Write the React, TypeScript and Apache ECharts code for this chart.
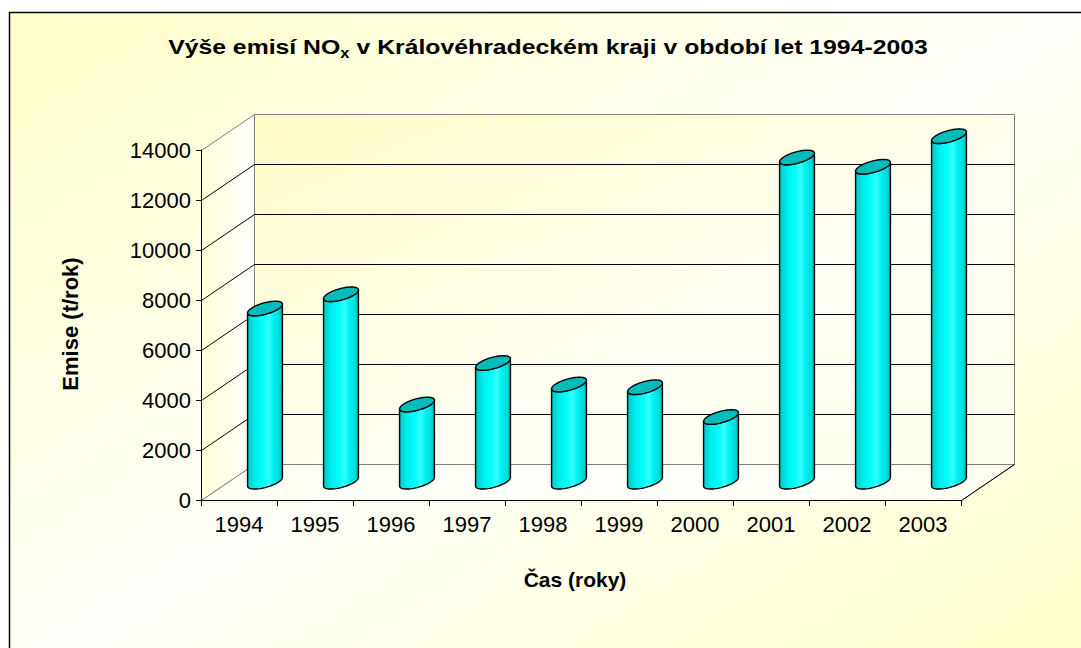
import React, { useEffect, useRef } from 'react';
import * as echarts from 'echarts';

// ---- data ----
const years = ['1994', '1995', '1996', '1997', '1998', '1999', '2000', '2001', '2002', '2003'];
const emissions = [6930, 7500, 3090, 4750, 3890, 3780, 2590, 12970, 12600, 13820];
const yTicks = [0, 2000, 4000, 6000, 8000, 10000, 12000, 14000];
const yMax = 14000;

const titleMain = 'Výše emisí NO';
const titleSub = 'x';
const titleRest = ' v Královéhradeckém kraji v období let 1994-2003';
const yTitle = 'Emise (t/rok)';
const xTitle = 'Čas (roky)';

// ---- projection style ----
const DEPTH: [number, number] = [52, -36.5];
const CYL_A = 14;
const CYL_F = 0.2;
const FONT = '"Liberation Sans", Arial, sans-serif';

const lin = (x1: number, y1: number, x2: number, y2: number, color: string, w = 1) => ({
  type: 'line',
  shape: { x1, y1, x2, y2 },
  style: { stroke: color, lineWidth: w },
  silent: true,
});

function renderWalls(params: any, api: any) {
  const cs = params.coordSys;
  const x0 = Math.round(cs.x) + 0.5;
  const x1 = Math.round(cs.x + cs.width) + 0.5;
  const [dx, dy] = DEPTH;
  const yB = Math.round(api.coord([0, 0])[1]) + 0.5;
  const yT = Math.round(api.coord([0, yMax])[1]) + 0.5;
  const bdy = (y: number) => Math.round(y + dy) + 0.5;
  const bx0 = Math.round(x0 + dx) + 0.5;
  const bx1 = Math.round(x1 + dx) + 0.5;
  const children: any[] = [];
  children.push({
    type: 'polygon',
    shape: { points: [[x0, yB], [x0, yT], [bx0, bdy(yT)], [bx0, bdy(yB)]] },
    style: {
      fill: new echarts.graphic.LinearGradient(0, 0, 1, 0, [
        { offset: 0, color: '#FFFFDA' },
        { offset: 1, color: '#FFFFFF' },
      ]),
      stroke: '#808080',
      lineWidth: 1,
    },
  });
  children.push({
    type: 'polygon',
    shape: { points: [[bx0, bdy(yT)], [bx1, bdy(yT)], [bx1, bdy(yB)], [bx0, bdy(yB)]] },
    style: {
      fill: new echarts.graphic.LinearGradient(0, 0, 1, 1, [
        { offset: 0, color: '#FFFCC6' },
        { offset: 0.6, color: '#FFFFF4' },
        { offset: 1, color: '#FFFFEE' },
      ]),
      stroke: '#808080',
      lineWidth: 1,
    },
  });
  children.push({
    type: 'polygon',
    shape: { points: [[x0, yB], [x1, yB], [bx1, bdy(yB)], [bx0, bdy(yB)]] },
    style: {
      fill: new echarts.graphic.LinearGradient(0, 0, 1, 0, [
        { offset: 0, color: '#FFFFF2' },
        { offset: 0.5, color: '#FFFFFB' },
        { offset: 1, color: '#FFFFF0' },
      ]),
      stroke: '#808080',
      lineWidth: 1,
    },
  });
  children.push(lin(x1, yB, bx1, bdy(yB), '#000', 1));
  for (const v of yTicks) {
    if (v <= 0 || v >= yMax) continue;
    const y = Math.round(api.coord([0, v])[1]) + 0.5;
    children.push(lin(x0, y, bx0, bdy(y), '#000', 1));
    children.push(lin(bx0, bdy(y), bx1, bdy(y), '#000', 1));
  }
  return { type: 'group', children };
}

function renderBar(params: any, api: any) {
  const i = api.value(0);
  const v = api.value(1);
  const base = api.coord([i, 0]);
  const top = api.coord([i, v]);
  const hx = DEPTH[0] / 2;
  const hy = DEPTH[1] / 2;
  const cx = base[0] + hx;
  const yb = base[1] + hy;
  const yt = top[1] + hy;
  const a = CYL_A;
  const bx = DEPTH[0] * CYL_F;
  const by = DEPTH[1] * CYL_F;
  const t0 = Math.atan2(bx, a);
  const pt = (cy: number, t: number) => [cx + a * Math.cos(t) + bx * Math.sin(t), cy + by * Math.sin(t)];
  const N = 32;
  const body: number[][] = [];
  for (let k = 0; k <= N; k++) body.push(pt(yb, t0 + Math.PI + (Math.PI * k) / N));
  for (let k = N; k >= 0; k--) body.push(pt(yt, t0 + Math.PI + (Math.PI * k) / N));
  const cap: number[][] = [];
  for (let k = 0; k < 64; k++) cap.push(pt(yt, (2 * Math.PI * k) / 64));
  return {
    type: 'group',
    children: [
      {
        type: 'polygon',
        shape: { points: body },
        style: {
          fill: new echarts.graphic.LinearGradient(0, 0, 1, 0, [
            { offset: 0, color: '#00C4C4' },
            { offset: 0.2, color: '#00EAEA' },
            { offset: 0.45, color: '#00FFFF' },
            { offset: 0.6, color: '#3CFFFF' },
            { offset: 0.72, color: '#00F4F4' },
            { offset: 0.9, color: '#00DCDC' },
            { offset: 1, color: '#00B0B0' },
          ]),
          stroke: '#000',
          lineWidth: 1.4,
        },
      },
      {
        type: 'polygon',
        shape: { points: cap },
        style: { fill: '#00BCBC', stroke: '#000', lineWidth: 1.4 },
      },
    ],
  };
}

export default function App() {
  const ref = useRef<HTMLDivElement>(null);
  useEffect(() => {
    const chart = echarts.init(ref.current!, null, { renderer: 'svg' });
    const option: any = {
      animation: false,
      backgroundColor: '#FFFFFF',
      grid: { left: 201, top: 150, width: 760, height: 350, containLabel: false },
      xAxis: {
        type: 'category',
        data: years,
        boundaryGap: true,
        z: 5,
        axisLine: { show: true, lineStyle: { color: '#000', width: 1 } },
        axisTick: { show: true, length: 6, alignWithLabel: false, interval: 0, lineStyle: { color: '#000' } },
        axisLabel: { interval: 0, fontSize: 22, color: '#000', margin: 13, fontFamily: FONT },
        splitLine: { show: false },
      },
      yAxis: {
        type: 'value',
        min: 0,
        max: yMax,
        interval: 2000,
        z: 5,
        axisLine: { show: true, lineStyle: { color: '#000', width: 1 } },
        axisTick: { show: true, length: 5, lineStyle: { color: '#000' } },
        axisLabel: {
          fontSize: 22,
          color: '#000',
          margin: 10,
          fontFamily: FONT,
          formatter: (v: number) => String(v),
        },
        splitLine: { show: false },
      },
      graphic: [
        {
          type: 'rect',
          z: -10,
          silent: true,
          shape: { x: 9.5, y: 12.5, width: 1110, height: 700 },
          style: {
            fill: new echarts.graphic.LinearGradient(0, 0, 1, 1, [
              { offset: 0, color: '#FFFFC8' },
              { offset: 0.48, color: '#FFFFFA' },
              { offset: 1, color: '#FFFFC4' },
            ]),
            stroke: '#000',
            lineWidth: 1.5,
          },
        },
        {
          type: 'text',
          x: 548,
          y: 47,
          scaleX: 1.18,
          z: 10,
          style: {
            text: `{a|${titleMain}}{s|${titleSub}}{a|${titleRest}}`,
            align: 'center',
            verticalAlign: 'middle',
            rich: {
              a: { fontSize: 21, fontWeight: 'bold', fontFamily: FONT, fill: '#000', lineHeight: 26, verticalAlign: 'middle' },
              s: { fontSize: 14, fontWeight: 'bold', fontFamily: FONT, fill: '#000', lineHeight: 26, verticalAlign: 'bottom' },
            },
          },
        },
        {
          type: 'text',
          x: 575,
          y: 579,
          z: 10,
          style: {
            text: xTitle,
            align: 'center',
            verticalAlign: 'middle',
            fontSize: 21,
            fontWeight: 'bold',
            fontFamily: FONT,
            fill: '#000',
          },
        },
        {
          type: 'text',
          x: 70,
          y: 324,
          rotation: Math.PI / 2,
          z: 10,
          style: {
            text: yTitle,
            align: 'center',
            verticalAlign: 'middle',
            fontSize: 22,
            fontWeight: 'bold',
            fontFamily: FONT,
            fill: '#000',
          },
        },
      ],
      series: [
        {
          type: 'custom',
          name: 'walls',
          z: 1,
          silent: true,
          clip: false,
          data: [[0, 0]],
          renderItem: renderWalls,
        },
        {
          type: 'custom',
          name: 'Emise NOx',
          z: 3,
          clip: false,
          encode: { x: 0, y: 1 },
          data: emissions.map((v, i) => [i, v]),
          renderItem: renderBar,
        },
      ],
    };
    chart.setOption(option);
    return () => chart.dispose();
  }, []);
  return <div ref={ref} style={{ position: 'absolute', left: 0, top: 0, width: 1081, height: 648 }} />;
}
